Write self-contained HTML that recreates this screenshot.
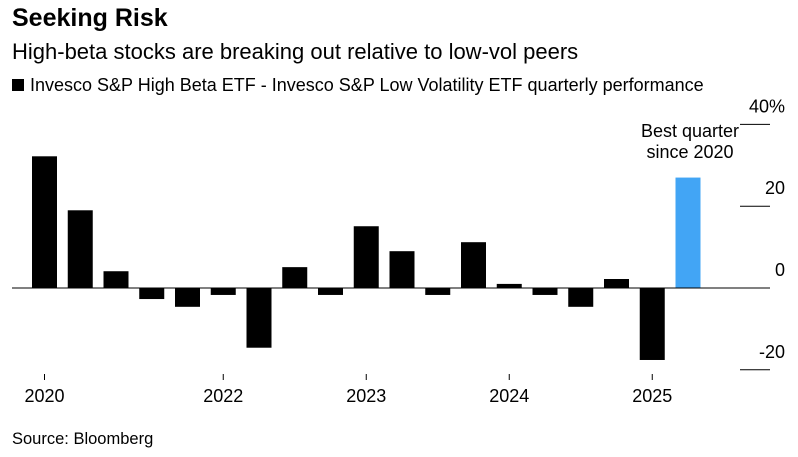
<!DOCTYPE html>
<html><head><meta charset="utf-8"><style>
body{margin:0;background:#fff;font-family:"Liberation Sans",sans-serif;}
#wrap{position:relative;width:798px;height:457px;overflow:hidden;}
</style></head><body>
<div id="wrap">
<div style="position:absolute;left:12px;top:4px;font-size:25px;font-weight:bold;color:#000;">Seeking Risk</div>
<div style="position:absolute;left:12px;top:39px;font-size:22px;color:#000;">High-beta stocks are breaking out relative to low-vol peers</div>
<div style="position:absolute;left:12px;top:75px;font-size:18px;color:#000;"><span style="display:inline-block;width:12px;height:12px;background:#000;margin-right:6px;"></span>Invesco S&amp;P High Beta ETF - Invesco S&amp;P Low Volatility ETF quarterly performance</div>
<div style="position:absolute;left:12px;top:430px;font-size:16.5px;color:#000;">Source: Bloomberg</div>
<svg id="chart" width="798" height="457" style="position:absolute;left:0;top:0"></svg>
</div>
<script>
const values=[32.2,19,4.1,-2.7,-4.6,-1.7,-14.6,5.1,-1.7,15.1,9,-1.7,11.2,1,-1.7,-4.6,2.2,-17.6,27];
const xLabels=["2020","","","","","2022","","","","2023","","","","2024","","","","2025",""];
const yTicks=[40,20,0,-20];
const ns="http://www.w3.org/2000/svg";
const svg=document.getElementById('chart');
const y=v=>288-v*4.09;
const x=i=>32+i*35.75;
const bw=25;
function mk(t,a){const e=document.createElementNS(ns,t);for(const k in a)e.setAttribute(k,a[k]);svg.appendChild(e);return e;}
yTicks.forEach(t=>{
 if(t!==0){const l=mk('line',{x1:740,x2:770,y1:y(t),y2:y(t),stroke:'#000','stroke-width':1});
 
 }
 const tx=mk('text',{x:785,y:y(t)-12,'text-anchor':'end','font-size':18,'font-family':'Liberation Sans, sans-serif'});
 tx.textContent=t===40?'40%':String(t);
 
 
});
values.forEach((v,i)=>{
 const r=mk('rect',{x:x(i),y:Math.min(y(v),y(0)),width:bw,height:Math.abs(y(v)-y(0)),fill:i===values.length-1?'#42a5f5':'#000'});
 
 
 if(xLabels[i]){const t=mk('text',{x:x(i)+bw/2,y:402,'text-anchor':'middle','font-size':18,'font-family':'Liberation Sans, sans-serif'});
 t.textContent=xLabels[i];
 
 
 const tk=mk('line',{x1:x(i)+bw/2,x2:x(i)+bw/2,y1:374,y2:380,stroke:'#000'});
 
 }
});
const z=mk('line',{x1:12,x2:770,y1:y(0),y2:y(0),stroke:'#000','stroke-width':1});


const a1=mk('text',{x:690,y:137,'text-anchor':'middle','font-size':18,'font-family':'Liberation Sans, sans-serif'});a1.textContent='Best quarter';


const a2=mk('text',{x:690,y:158,'text-anchor':'middle','font-size':18,'font-family':'Liberation Sans, sans-serif'});a2.textContent='since 2020';


</script>
</body></html>
